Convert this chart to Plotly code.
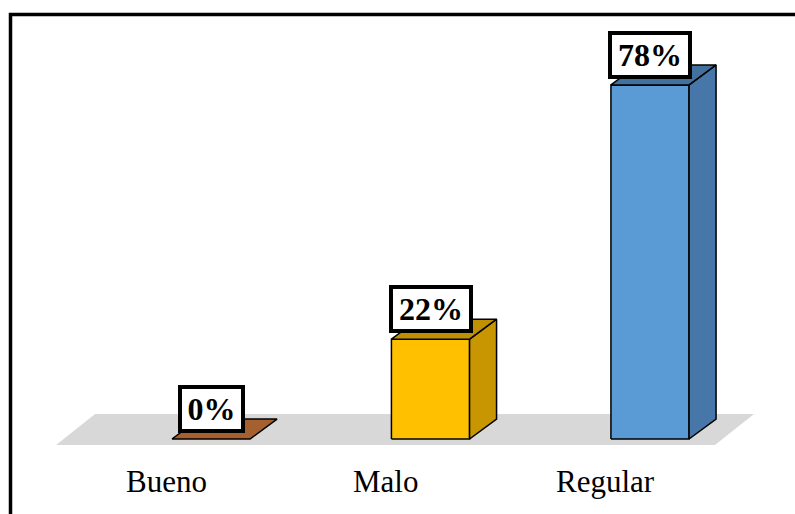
import plotly.graph_objects as go

# Survey result shares (percent)
categories = ["Bueno", "Malo", "Regular"]
values = [0, 22, 78]
labels = ["0%", "22%", "78%"]

# Face colours per bar: front, side, top
front_colors = ["#A6602F", "#FFC000", "#5B9BD5"]
side_colors = ["#7C4723", "#C79600", "#4677A8"]
top_colors = ["#A6602F", "#BF9000", "#41719C"]

# 3D styling (axis units)
HALF_W = 0.178      # half bar width in category units
DEPTH_X = 0.123     # depth offset along x
DEPTH_Y = 4.4       # depth offset along y (percent units)
FLOOR_DEPTH_X = 0.178
FLOOR_DEPTH_Y = 6.8
FLOOR_FRONT = -1.3
SERIF = "Liberation Serif, Times New Roman, serif"

fig = go.Figure()


def poly(xs, ys, fill, line_w=1.5, line_color="black"):
    fig.add_trace(go.Scatter(
        x=xs + [xs[0]], y=ys + [ys[0]], mode="lines", fill="toself",
        fillcolor=fill, line=dict(color=line_color, width=line_w),
        hoverinfo="skip", showlegend=False))


# Grey floor
n = len(categories)
fx0, fx1 = -0.5 - 0.206, (n - 0.5) - 0.204
poly([fx0, fx1, fx1 + FLOOR_DEPTH_X, fx0 + FLOOR_DEPTH_X],
     [FLOOR_FRONT, FLOOR_FRONT, FLOOR_FRONT + FLOOR_DEPTH_Y, FLOOR_FRONT + FLOOR_DEPTH_Y],
     "#D9D8D9", line_w=0, line_color="rgba(0,0,0,0)")

# Bars as front, side and top faces
for i, v in enumerate(values):
    xl, xr = i - HALF_W, i + HALF_W
    if v > 0:
        poly([xl, xr, xr, xl], [0, 0, v, v], front_colors[i])
        poly([xr, xr + DEPTH_X, xr + DEPTH_X, xr],
             [0, DEPTH_Y, v + DEPTH_Y, v], side_colors[i])
    poly([xl, xr, xr + DEPTH_X, xl + DEPTH_X],
         [v, v, v + DEPTH_Y, v + DEPTH_Y], top_colors[i])

# Value labels in boxed call-outs
for i, (v, t) in enumerate(zip(values, labels)):
    fig.add_annotation(
        x=i, y=v, xref="x", yref="y", text="<b>%s</b>" % t, showarrow=False,
        xanchor="center", yanchor="bottom", yshift=6,
        font=dict(family=SERIF, size=32, color="black"),
        bgcolor="white", bordercolor="black", borderwidth=4, borderpad=1,
        width=23 + 17 * len(t), height=38, valign="middle", align="center")

# Category labels beneath the floor
for i, c in enumerate(categories):
    fig.add_annotation(
        x=i, y=-9.4, xref="x", yref="y", text=c, showarrow=False,
        xanchor="center", yanchor="middle", xshift=-45,
        font=dict(family=SERIF, size=31, color="black"))

# Chart frame
fig.add_shape(type="rect", xref="paper", yref="paper",
              x0=10.5 / 795, x1=1.02, y0=-0.02, y1=1 - 14.5 / 514,
              line=dict(color="black", width=3.5), fillcolor="rgba(0,0,0,0)",
              layer="above")

fig.update_layout(
    width=795, height=514, margin=dict(l=0, r=0, t=0, b=0),
    paper_bgcolor="white", plot_bgcolor="white",
    xaxis=dict(range=[-0.9613, 2.6606], visible=False, fixedrange=True),
    yaxis=dict(range=[-16.52, 96.70], visible=False, fixedrange=True),
    showlegend=False,
)

fig.write_html("out.html")
